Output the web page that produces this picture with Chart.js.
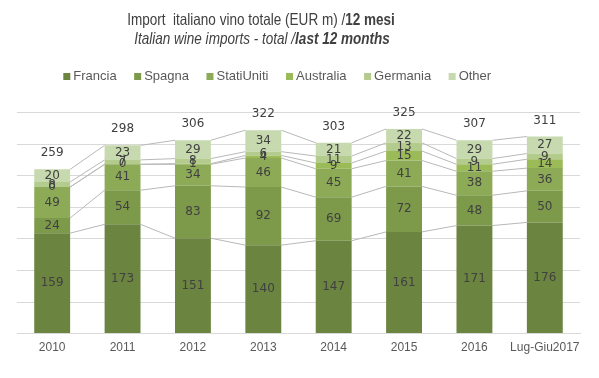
<!DOCTYPE html>
<html>
<head>
<meta charset="utf-8">
<script src="https://cdn.jsdelivr.net/npm/chart.js@4"></script>
<style>
html,body{margin:0;padding:0;background:#fff;}
#wrap{width:599px;height:378px;position:relative;}
</style>
</head>
<body>
<div id="wrap"><canvas id="c" width="599" height="378"></canvas></div>
<script>
const categories = ['2010','2011','2012','2013','2014','2015','2016','Lug-Giu2017'];
const francia    = [159,173,151,140,147,161,171,176];
const spagna     = [24,54,83,92,69,72,48,50];
const statiUniti = [49,41,34,46,45,41,38,36];
const australia  = [0,0,1,4,9,15,11,14];
const germania   = [8,7,8,6,11,13,9,9];
const other      = [20,23,29,34,21,22,29,27];
const totals     = [259,298,306,322,303,325,307,311];
const yTicks     = [0,50,100,150,200,250,300,350];

const seriesNames  = ['Francia','Spagna','StatiUniti','Australia','Germania','Other'];
const seriesData   = [francia,spagna,statiUniti,australia,germania,other];
const seriesColors = ['#6b8440','#7d9a4a','#8dab57','#9bbb59','#b4cb8e','#c7d9ae'];

const SANS = '"Liberation Sans", Arial, sans-serif';
const LABELFONT = '"DejaVu Sans", Verdana, sans-serif';

function drawScaledLine(ctx, parts, cx, cy, sx) {
  let total = 0;
  const widths = parts.map(p => { ctx.font = p.font; const w = ctx.measureText(p.text).width; total += w; return w; });
  ctx.save();
  ctx.translate(cx, cy);
  ctx.scale(sx, 1);
  let x = -total / 2;
  parts.forEach((p, i) => { ctx.font = p.font; ctx.fillText(p.text, x, 0); x += widths[i]; });
  ctx.restore();
}

const titlePlugin = {
  id: 'titles',
  afterDraw(chart) {
    const ctx = chart.ctx;
    ctx.save();
    ctx.fillStyle = '#404040';
    ctx.textBaseline = 'middle';
    ctx.textAlign = 'left';
    drawScaledLine(ctx, [
      { text: 'Import  italiano vino totale (EUR m) /', font: '16.5px ' + SANS },
      { text: '12 mesi', font: 'bold 16.5px ' + SANS }
    ], 261, 20, 0.82);
    drawScaledLine(ctx, [
      { text: 'Italian wine imports - total /', font: 'italic 16.5px ' + SANS },
      { text: 'last 12 months', font: 'italic bold 16.5px ' + SANS }
    ], 262, 39.5, 0.82);

    ctx.font = '13px ' + SANS;
    let x = 63.3;
    seriesNames.forEach((n, i) => {
      ctx.fillStyle = seriesColors[i];
      ctx.fillRect(x, 73, 7, 7);
      ctx.fillStyle = '#595959';
      ctx.fillText(n, x + 10, 76.5);
      x += 10 + ctx.measureText(n).width + 17.5;
    });
    ctx.restore();
  }
};

const seriesLinesPlugin = {
  id: 'seriesLines',
  beforeDatasetsDraw(chart) {
    const ctx = chart.ctx;
    ctx.save();
    ctx.strokeStyle = '#b8b8b8';
    ctx.lineWidth = 1;
    chart.data.datasets.forEach((ds, di) => {
      const meta = chart.getDatasetMeta(di);
      for (let i = 0; i < meta.data.length - 1; i++) {
        const a = meta.data[i], b = meta.data[i + 1];
        ctx.beginPath();
        ctx.moveTo(a.x + a.width / 2, a.y);
        ctx.lineTo(b.x - b.width / 2, b.y);
        ctx.stroke();
      }
    });
    ctx.restore();
  },
  afterDatasetsDraw(chart) {
    const ctx = chart.ctx;
    ctx.save();
    ctx.fillStyle = '#404040';
    ctx.font = '12px ' + LABELFONT;
    ctx.textAlign = 'center';
    ctx.textBaseline = 'middle';
    chart.data.datasets.forEach((ds, di) => {
      const meta = chart.getDatasetMeta(di);
      meta.data.forEach((el, i) => {
        const y = (el.y + el.base) / 2;
        ctx.fillText(String(ds.data[i]), el.x, y);
      });
    });
    const ys = chart.scales.y;
    const xs = chart.scales.x;
    totals.forEach((t, i) => {
      const x = xs.getPixelForValue(i);
      const top = ys.getPixelForValue(seriesData.reduce((s, arr) => s + arr[i], 0));
      ctx.fillText(String(t), x, top - 16);
    });
    ctx.restore();
  }
};

new Chart(document.getElementById('c'), {
  type: 'bar',
  data: {
    labels: categories,
    datasets: seriesNames.map((n, i) => ({
      label: n,
      data: seriesData[i],
      backgroundColor: seriesColors[i],
      borderWidth: 0,
      categoryPercentage: 1,
      barPercentage: 0.51
    }))
  },
  plugins: [titlePlugin, seriesLinesPlugin],
  options: {
    responsive: false,
    animation: false,
    devicePixelRatio: 1,
    layout: { padding: { top: 112.5, left: 17, right: 19, bottom: 16 } },
    plugins: {
      legend: { display: false },
      title: { display: false },
      tooltip: { enabled: false }
    },
    scales: {
      x: {
        stacked: true,
        grid: { display: false, drawTicks: false },
        border: { display: true, color: '#d9d9d9' },
        ticks: { color: '#595959', font: { size: 12, family: SANS }, padding: 7, maxRotation: 0, autoSkip: false }
      },
      y: {
        stacked: true,
        min: 0, max: 350,
        afterBuildTicks(scale) { scale.ticks = yTicks.map(v => ({ value: v })); },
        grid: { color: '#d9d9d9', drawTicks: false },
        border: { display: false },
        ticks: { display: false }
      }
    }
  }
});
</script>
</body>
</html>
